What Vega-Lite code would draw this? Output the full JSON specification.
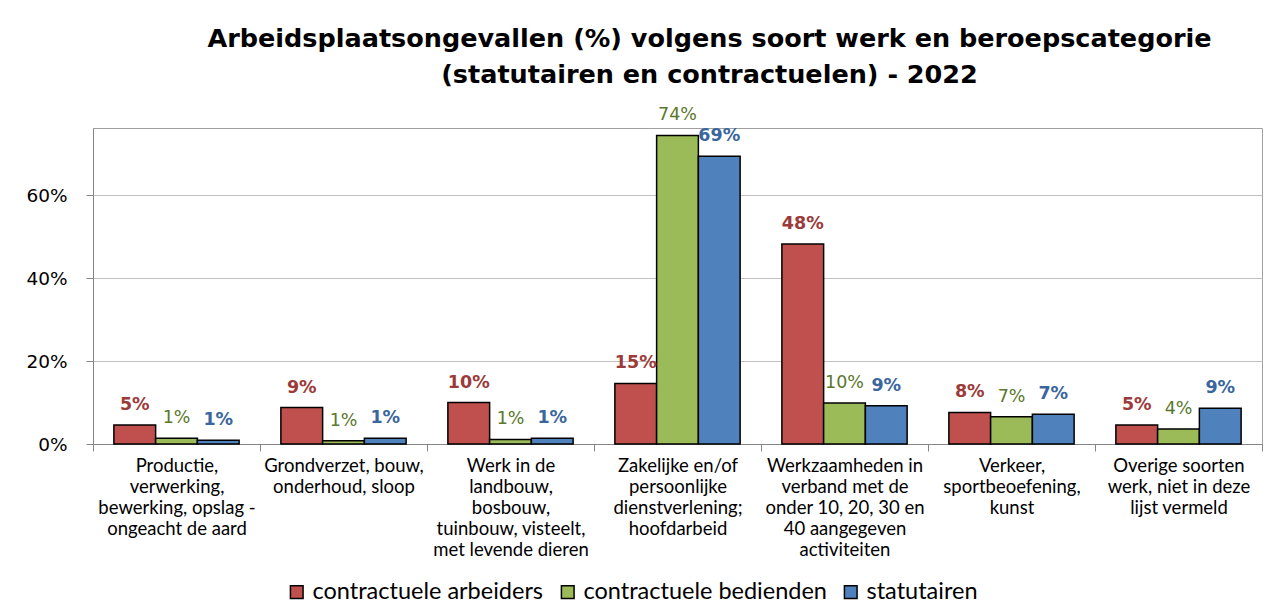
{
  "$schema": "https://vega.github.io/schema/vega-lite/v6.json",
  "width": 1169,
  "height": 316,
  "autosize": {"type": "none"},
  "padding": {"left": 93, "top": 128, "right": 20, "bottom": 171},
  "background": "white",
  "title": {
    "text": ["Arbeidsplaatsongevallen (%) volgens soort werk en beroepscategorie", "(statutairen en contractuelen) - 2022"],
    "font": "DejaVu Sans",
    "fontSize": 25.5,
    "fontWeight": "bold",
    "color": "black",
    "lineHeight": 36,
    "anchor": "middle",
    "dx": 32,
    "offset": 18
  },
  "data": {
    "values": [
      {"cat": "Productie,|verwerking,|bewerking, opslag -|ongeacht de aard", "series": "contractuele arbeiders", "value": 0.046},
      {"cat": "Productie,|verwerking,|bewerking, opslag -|ongeacht de aard", "series": "contractuele bedienden", "value": 0.014},
      {"cat": "Productie,|verwerking,|bewerking, opslag -|ongeacht de aard", "series": "statutairen", "value": 0.009},
      {"cat": "Grondverzet, bouw,|onderhoud, sloop", "series": "contractuele arbeiders", "value": 0.088},
      {"cat": "Grondverzet, bouw,|onderhoud, sloop", "series": "contractuele bedienden", "value": 0.008},
      {"cat": "Grondverzet, bouw,|onderhoud, sloop", "series": "statutairen", "value": 0.014},
      {"cat": "Werk in de|landbouw,|bosbouw,|tuinbouw, visteelt,|met levende dieren", "series": "contractuele arbeiders", "value": 0.100},
      {"cat": "Werk in de|landbouw,|bosbouw,|tuinbouw, visteelt,|met levende dieren", "series": "contractuele bedienden", "value": 0.011},
      {"cat": "Werk in de|landbouw,|bosbouw,|tuinbouw, visteelt,|met levende dieren", "series": "statutairen", "value": 0.014},
      {"cat": "Zakelijke en/of|persoonlijke|dienstverlening;|hoofdarbeid", "series": "contractuele arbeiders", "value": 0.146},
      {"cat": "Zakelijke en/of|persoonlijke|dienstverlening;|hoofdarbeid", "series": "contractuele bedienden", "value": 0.744},
      {"cat": "Zakelijke en/of|persoonlijke|dienstverlening;|hoofdarbeid", "series": "statutairen", "value": 0.694},
      {"cat": "Werkzaamheden in|verband met de|onder 10, 20, 30 en|40 aangegeven|activiteiten", "series": "contractuele arbeiders", "value": 0.482},
      {"cat": "Werkzaamheden in|verband met de|onder 10, 20, 30 en|40 aangegeven|activiteiten", "series": "contractuele bedienden", "value": 0.099},
      {"cat": "Werkzaamheden in|verband met de|onder 10, 20, 30 en|40 aangegeven|activiteiten", "series": "statutairen", "value": 0.092},
      {"cat": "Verkeer,|sportbeoefening,|kunst", "series": "contractuele arbeiders", "value": 0.076},
      {"cat": "Verkeer,|sportbeoefening,|kunst", "series": "contractuele bedienden", "value": 0.066},
      {"cat": "Verkeer,|sportbeoefening,|kunst", "series": "statutairen", "value": 0.072},
      {"cat": "Overige soorten|werk, niet in deze|lijst vermeld", "series": "contractuele arbeiders", "value": 0.046},
      {"cat": "Overige soorten|werk, niet in deze|lijst vermeld", "series": "contractuele bedienden", "value": 0.036},
      {"cat": "Overige soorten|werk, niet in deze|lijst vermeld", "series": "statutairen", "value": 0.086}
    ]
  },
  "encoding": {
    "x": {
      "field": "cat",
      "type": "nominal",
      "sort": null,
      "scale": {"paddingInner": 0, "paddingOuter": 0},
      "axis": {
        "title": null,
        "labelAngle": 0,
        "labelExpr": "isString(datum.value) ? split(datum.value, '|') : ''",
        "labelLineHeight": 21,
        "labelFont": "Lato",
        "labelFontSize": 18.5,
        "labelColor": "black",
        "labelBaseline": "top",
        "labelPadding": 5,
        "labelLimit": 0,
        "tickBand": "extent",
        "tickSize": 7,
        "tickColor": "#868686",
        "domainColor": "#868686",
        "grid": false
      }
    },
    "xOffset": {
      "field": "series",
      "type": "nominal",
      "scale": {"domain": ["contractuele arbeiders", "contractuele bedienden", "statutairen"], "paddingInner": 0, "paddingOuter": 0.5}
    },
    "y": {
      "field": "value",
      "type": "quantitative",
      "scale": {"domain": [0, 0.762], "nice": false},
      "axis": {
        "title": null,
        "values": [0, 0.2, 0.4, 0.6],
        "format": ".0%",
        "labelFont": "DejaVu Sans",
        "labelFontSize": 18.5,
        "labelColor": "black",
        "labelPadding": 19,
        "tickSize": 7,
        "tickColor": "#868686",
        "domainColor": "#868686",
        "grid": true,
        "gridColor": "#C0C0C0"
      }
    }
  },
  "layer": [
    {
      "mark": {"type": "bar", "stroke": "black", "strokeWidth": 1.5},
      "encoding": {
        "color": {
          "field": "series",
          "type": "nominal",
          "scale": {"domain": ["contractuele arbeiders", "contractuele bedienden", "statutairen"], "range": ["#C0504D", "#9BBB59", "#4F81BD"]},
          "legend": {
            "orient": "none",
            "legendX": 192,
            "legendY": 452,
            "direction": "horizontal",
            "title": null,
            "labelFont": "Lato",
            "labelFontSize": 23.5,
            "labelColor": "black",
            "labelLimit": 0,
            "labelOffset": 4,
            "symbolType": "square",
            "symbolSize": 160,
            "symbolStrokeColor": "black",
            "symbolStrokeWidth": 1.5,
            "columnPadding": 12
          }
        }
      }
    },
    {
      "transform": [{"filter": "datum.series !== 'contractuele bedienden'"}],
      "mark": {"type": "text", "baseline": "bottom", "dy": -11, "font": "DejaVu Sans", "fontSize": 17.5, "fontWeight": "bold"},
      "encoding": {
        "text": {"field": "value", "type": "quantitative", "format": ".0%"},
        "color": {"condition": {"test": "datum.series === 'contractuele arbeiders'", "value": "#9B3B3A"}, "value": "#3A669E"}
      }
    },
    {
      "transform": [{"filter": "datum.series === 'contractuele bedienden'"}],
      "mark": {"type": "text", "baseline": "bottom", "dy": -11, "font": "DejaVu Sans", "fontSize": 17.5, "color": "#5A772C"},
      "encoding": {
        "text": {"field": "value", "type": "quantitative", "format": ".0%"}
      }
    }
  ],
  "config": {
    "view": {"stroke": "#A0A0A0", "strokeWidth": 1}
  }
}
